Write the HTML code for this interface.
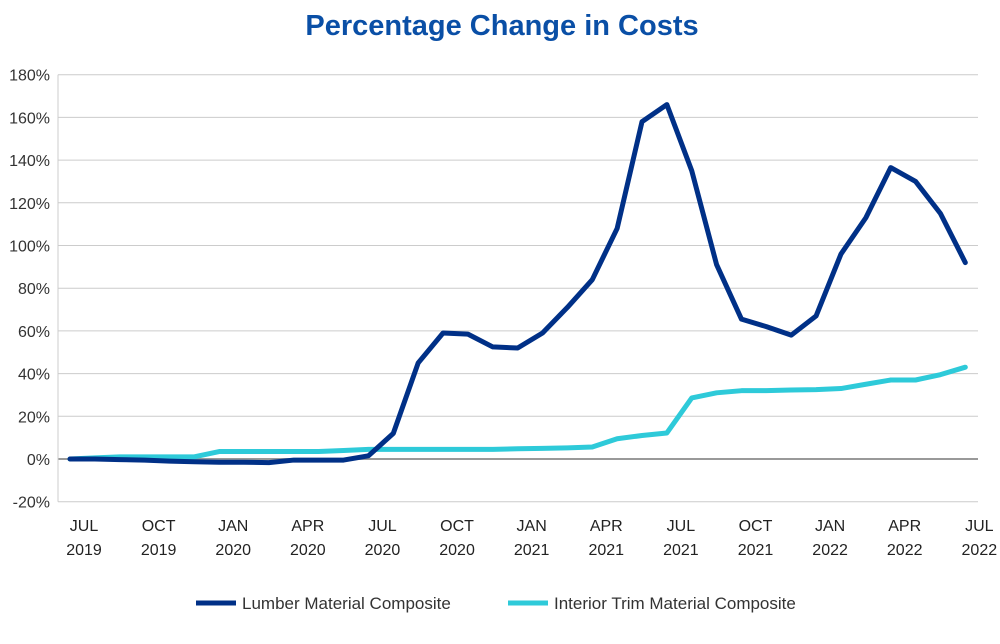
<!DOCTYPE html>
<html><head><meta charset="utf-8"><style>
body{margin:0;background:#fff;width:1000px;height:639px;overflow:hidden;font-family:"Liberation Sans",sans-serif}
</style></head><body>
<svg width="1000" height="639">
<text x="502" y="35" text-anchor="middle" font-size="29" font-weight="bold" fill="#0a4fa6">Percentage Change in Costs</text>
<g id="grid"></g><g id="lines"></g><g id="xl"></g>
<g>
<line x1="196" y1="603" x2="236" y2="603" stroke="#003087" stroke-width="5"/>
<text x="242" y="609" font-size="17" fill="#333">Lumber Material Composite</text>
<line x1="508" y1="603" x2="548" y2="603" stroke="#2ecad9" stroke-width="5"/>
<text x="554" y="609" font-size="17" fill="#333">Interior Trim Material Composite</text>
</g>
</svg>
<script>
const yTicks=[-20,0,20,40,60,80,100,120,140,160,180];
const xLabels=[["JUL","2019"],["OCT","2019"],["JAN","2020"],["APR","2020"],["JUL","2020"],["OCT","2020"],["JAN","2021"],["APR","2021"],["JUL","2021"],["OCT","2021"],["JAN","2022"],["APR","2022"],["JUL","2022"]];
const lumber=[0,0,-0.3,-0.5,-1,-1.3,-1.5,-1.5,-1.7,-0.5,-0.5,-0.5,1.5,12,45,59,58.5,52.5,52,59,71,84,108,158,166,135,91,65.5,62,58,67,96,113,136.5,130,115,92];
const trim=[0,0.5,1,1,1,1,3.5,3.5,3.5,3.5,3.5,4,4.5,4.5,4.5,4.5,4.5,4.5,4.8,5,5.2,5.6,9.5,11,12.2,28.6,31,32,32,32.3,32.5,33,35,37,37,39.5,43];
const NS="http://www.w3.org/2000/svg";
const X0=58,X1=978,Y=v=>459-v*2.135,X=i=>70+i*24.87;
function mk(t,a,p){const e=document.createElementNS(NS,t);for(const k in a)e.setAttribute(k,a[k]);p.appendChild(e);return e;}
const g=document.getElementById('grid');
yTicks.forEach(v=>{
 const l=mk('line',{x1:X0,x2:X1,y1:Y(v),y2:Y(v),stroke:v===0?'#999':'#ccc','stroke-width':v===0?2:1},g);
 
 
 const t=mk('text',{x:50,y:Y(v)+6,'text-anchor':'end','font-size':16,fill:'#333'},g);
 t.textContent=v+'%';
 
 
});
mk('line',{x1:X0,x2:X0,y1:Y(180),y2:Y(-20),stroke:'#ccc'},g);
const xl=document.getElementById('xl');
xLabels.forEach((s,k)=>{
 const x=X(k*3)+14;
 const t=mk('text',{x:x,y:531,'text-anchor':'middle','font-size':16,fill:'#222'},xl);
 t.textContent=s[0];
 
 
 const t2=mk('text',{x:x,y:555,'text-anchor':'middle','font-size':16,fill:'#222'},xl);
 t2.textContent=s[1];
 
 
});
const L=document.getElementById('lines');
[[trim,'#2ecad9','trim-line'],[lumber,'#003087','lumber-line']].forEach(([d,c,n])=>{
 const p=mk('polyline',{points:d.map((v,i)=>X(i)+','+Y(v)).join(' '),fill:'none',stroke:c,'stroke-width':5,'stroke-linejoin':'round','stroke-linecap':'round'},L);
 
 
});
</script>
</body></html>
